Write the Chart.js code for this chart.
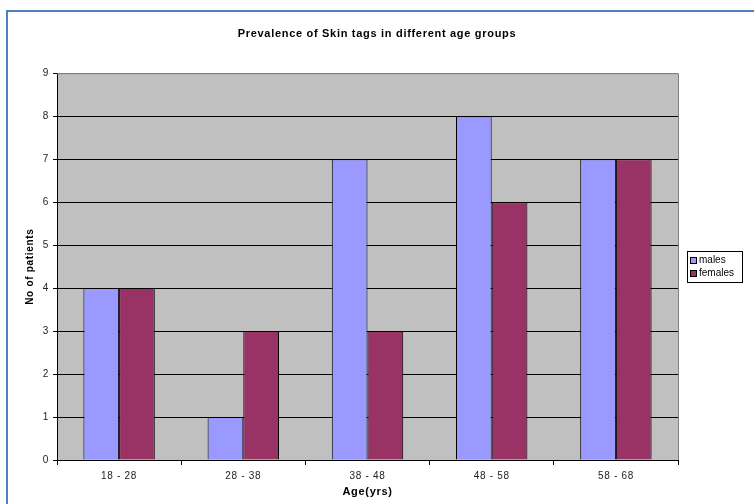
<!DOCTYPE html>
<html>
<head>
<meta charset="utf-8">
<script src="https://cdn.jsdelivr.net/npm/chart.js@4/dist/chart.umd.min.js"></script>
<style>
  body { margin: 0; background: #fff; }
  canvas { display: block; }
</style>
</head>
<body>
<canvas id="myChart" width="754" height="504"></canvas>
<script>
const ageGroups = ['18 - 28', '28 - 38', '38 - 48', '48 - 58', '58 - 68']
const males = [4, 1, 7, 8, 7]
const females = [4, 3, 3, 6, 7]
const seriesNames = ['males', 'females']
const seriesColors = ['#9999FF', '#993366']
const yMax = 9

const fontFamily = '"Liberation Sans", Arial, sans-serif'

// grey plot background + outer frame, like the old excel chart
const frame = {
    id: 'frame',
    beforeDraw(chart){
        const {ctx, chartArea: a} = chart
        ctx.save()
        ctx.fillStyle = '#C0C0C0'
        ctx.fillRect(a.left, a.top, a.right - a.left, a.bottom - a.top)
        ctx.strokeStyle = '#4F81BD'
        ctx.lineWidth = 2
        ctx.strokeRect(7, 11, 800, 600)
        ctx.restore()
        // excel text looks a bit wider
        ctx.letterSpacing = '0.7px'
    },
    beforeDatasetsDraw(chart){
        chart.ctx.letterSpacing = '0px'
    },
    afterDraw(chart){
        const {ctx, chartArea: a} = chart
        ctx.save()
        ctx.strokeStyle = '#808080'
        ctx.lineWidth = 1
        ctx.beginPath()
        ctx.moveTo(a.left, a.top + 0.5)
        ctx.lineTo(a.right + 0.5, a.top + 0.5)
        ctx.lineTo(a.right + 0.5, a.bottom)
        ctx.stroke()

        // legend box
        const x = 687, y = 251, w = 55, h = 31
        ctx.fillStyle = '#fff'
        ctx.fillRect(x, y, w, h)
        ctx.strokeStyle = '#000'
        ctx.strokeRect(x + 0.5, y + 0.5, w, h)
        ctx.font = '10px ' + fontFamily
        ctx.textBaseline = 'middle'
        chart.data.datasets.forEach((ds, i) => {
            const ry = y + 6 + i * 13
            ctx.fillStyle = ds.backgroundColor
            ctx.fillRect(x + 3.5, ry, 6, 6)
            ctx.strokeStyle = '#000'
            ctx.strokeRect(x + 3.5, ry + 0.5, 6, 6)
            ctx.fillStyle = '#000'
            ctx.fillText(ds.label, x + 12, ry + 3.5)
        })
        ctx.restore()
    }
}

let ctx = document.getElementById('myChart').getContext('2d')
let myChart = new Chart(ctx, {
    type: 'bar',
    data: {
        labels: ageGroups,
        datasets: [{
            label: seriesNames[0],
            data: males,
            backgroundColor: seriesColors[0],
            borderColor: '#000',
            borderWidth: 1
        }, {
            label: seriesNames[1],
            data: females,
            backgroundColor: seriesColors[1],
            borderColor: '#000',
            borderWidth: 1
        }]
    },
    options: {
        responsive: false,
        animation: false,
        devicePixelRatio: 1,
        layout: { padding: { left: 0, top: 10, right: 0, bottom: 0 } },
        datasets: { bar: { categoryPercentage: 0.575, barPercentage: 1 } },
        plugins: {
            legend: { display: false },
            tooltip: { enabled: false },
            title: {
                display: true,
                text: 'Prevalence of Skin tags in different age groups',
                color: '#000',
                font: { family: fontFamily, size: 11, weight: 'bold' },
                padding: { top: 17, bottom: 33 }
            }
        },
        scales: {
            x: {
                offset: true,
                afterFit(s){ s.height = 44 },
                border: { color: '#000', width: 1 },
                grid: { offset: true, drawOnChartArea: false, drawTicks: true, tickLength: 5, color: '#000' },
                ticks: { color: '#222', padding: 5, font: { family: fontFamily, size: 10 } },
                title: {
                    display: true,
                    text: 'Age(yrs)',
                    color: '#000',
                    font: { family: fontFamily, size: 11, weight: 'bold' },
                    padding: { top: 0, bottom: 5 }
                }
            },
            y: {
                min: 0,
                max: yMax,
                afterFit(s){ s.width = 57 },
                border: { color: '#000', width: 1 },
                grid: {
                    color: c => c.tick && c.tick.value === yMax ? '#808080' : '#000',
                    tickColor: '#000',
                    tickLength: 4
                },
                ticks: { stepSize: 1, color: '#222', padding: 4, font: { family: fontFamily, size: 10 } },
                title: {
                    display: true,
                    text: 'No of patients',
                    color: '#000',
                    font: { family: fontFamily, size: 10, weight: 'bold' },
                    padding: { top: 24, bottom: 0 }
                }
            },
            // empty right axis only to keep room for the legend
            side: {
                position: 'right',
                min: 0,
                max: yMax,
                afterFit(s){ s.width = 76 },
                border: { display: false },
                grid: { display: false },
                ticks: { display: false }
            }
        }
    },
    plugins: [frame]
})
</script>
</body>
</html>
